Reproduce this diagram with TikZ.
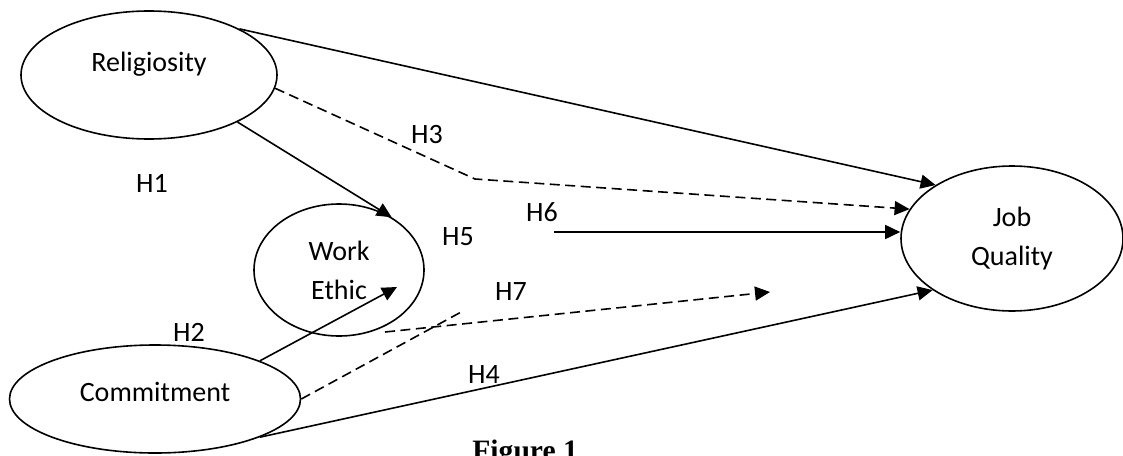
\documentclass[tikz,border=0pt]{standalone}
\usepackage{fontspec}
\setmainfont{Carlito}
\newfontfamily\captionserif{Liberation Serif}
\usetikzlibrary{shapes, arrows.meta, positioning, calc}

\tikzset{
  latent/.style={draw, ellipse, line width=0.8pt, inner sep=0pt, align=center,
    font=\fontsize{14}{19.5}\selectfont},
  hyp/.style={font=\fontsize{14}{17}\selectfont, inner sep=0pt},
  path/.style={line width=0.8pt, -{Triangle[length=7.5pt,width=7pt]}},
  mediated/.style={line width=0.8pt, dash pattern=on 5pt off 2.75pt}
}

\begin{document}
\begin{tikzpicture}[x=0.5pt, y=-0.5pt]
  \clip (0,0) rectangle (1123,455);
  \fill[white] (0,0) rectangle (1123,455);

  % Constructs
  \node[latent, minimum width=128pt, minimum height=64pt,
    label={[hyp, yshift=5.5pt]center:Religiosity}] (rel) at (149,75) {};
  \node[latent, minimum width=85pt, minimum height=66pt] (we) at (339,270) {Work\\Ethic};
  \node[latent, minimum width=145.5pt, minimum height=54pt,
    label={[hyp, yshift=3.5pt]center:Commitment}] (com) at (155,399) {};
  \node[latent, minimum width=111pt, minimum height=72.5pt] (jq) at (1012,238.5) {Job\\Quality};

  % Free ends
  \coordinate (h2end) at (397,287);
  \coordinate (h3bend) at (475,179);
  \coordinate (h5start) at (463,311);
  \coordinate (h6start) at (554,232);
  \coordinate (h7start) at (385,332);
  \coordinate (h7end) at (770,292);

  % Direct paths
  \draw[path] (rel.27) -- (jq.145.5);
  \draw[path] (rel.-28) -- (we.45.5);
  \draw[path] (com.20.7) -- (h2end);
  \draw[path] (com.-20.7) -- (jq.213.7);
  \draw[path] (h6start) -- (jq.west |- h6start);

  % Mediated paths
  \draw[mediated, -{Triangle[length=7.5pt,width=7pt]}] (rel.-6) -- (h3bend) -- (jq.164.4);
  \draw[mediated] (com.east) -- (h5start);
  \draw[mediated, -{Triangle[length=7.5pt,width=7pt]}] (h7start) -- (h7end);

  % Hypothesis labels
  \node[hyp] (h1) at (152,183) {H1};
  \node[hyp] (h2) at (189,332) {H2};
  \node[hyp] (h3) at (427,135) {H3};
  \node[hyp] (h4) at (484,375) {H4};
  \node[hyp] (h5) at (458,237) {H5};
  \node[hyp] (h6) at (542,212) {H6};
  \node[hyp] (h7) at (511,292) {H7};

  % Caption
  \node[anchor=base west, inner sep=0pt, font=\captionserif\fontsize{14.8}{17}\selectfont\bfseries]
    (cap) at (472,460) {Figure 1};
\end{tikzpicture}
\end{document}
